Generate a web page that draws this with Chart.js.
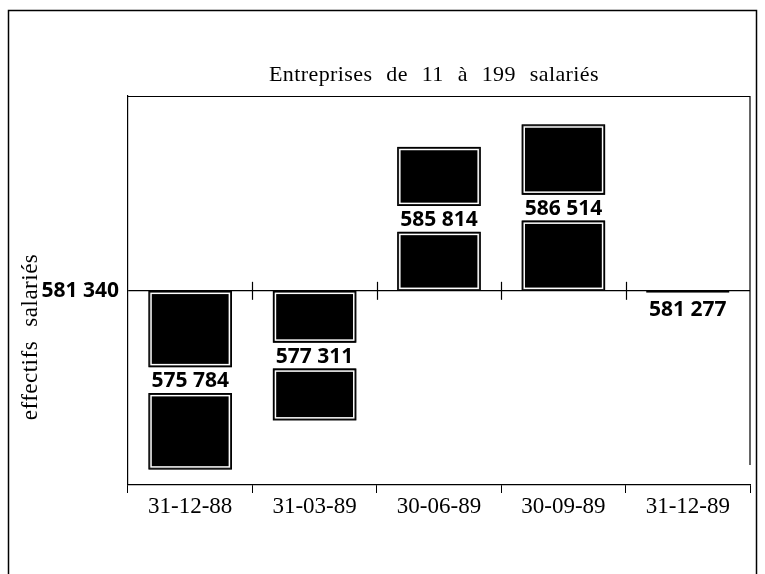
<!DOCTYPE html>
<html>
<head>
<meta charset="utf-8">
<script src="https://cdn.jsdelivr.net/npm/chart.js@4"></script>
<style>
  html, body { margin: 0; padding: 0; background: #fff; }
  #wrap { width: 765px; height: 574px; }
</style>
</head>
<body>
<div id="wrap"><canvas id="effectifsChart" width="765" height="574"></canvas></div>
<script>
// Effectifs salariés, entreprises de 11 à 199 salariés
const categories = ['31-12-88', '31-03-89', '30-06-89', '30-09-89', '31-12-89'];
const effectifs = [575784, 577311, 585814, 586514, 581277];
const reference = 581340;          // ligne de base
const yTickValues = [581340];
const yMin = 575300;
const yMax = 587400;

const SERIF = '"Liberation Serif", "DejaVu Serif", serif';
const BOLD = '"Open Sans", "Liberation Sans", sans-serif';

function fmt(v) {
  return String(v).replace(/\B(?=(\d{3})+(?!\d))/g, ' ');
}

// cadre, titre, boîte du graphique, petits traits sur la ligne de base, étiquettes
const decorPlugin = {
  id: 'decor',
  beforeDraw(chart) {
    const ctx = chart.ctx;
    ctx.save();
    ctx.fillStyle = '#fff';
    ctx.fillRect(0, 0, chart.width, chart.height);
    ctx.strokeStyle = '#000';
    ctx.lineWidth = 1.5;
    ctx.strokeRect(8.5, 10.5, 748, 600);

    // title
    ctx.fillStyle = '#000';
    ctx.font = '22px ' + SERIF;
    ctx.letterSpacing = '0.4px';
    ctx.wordSpacing = '8px';
    ctx.textAlign = 'center';
    ctx.textBaseline = 'middle';
    ctx.fillText('Entreprises de 11 à 199 salariés', 434, 75);
    ctx.restore();
  },
  afterDatasetsDraw(chart) {
    const ctx = chart.ctx;
    const area = chart.chartArea;
    const xs = chart.scales.x;
    const ys = chart.scales.y;
    const baseY = ys.getPixelForValue(reference);
    ctx.save();

    // top + right of the box
    ctx.strokeStyle = '#000';
    ctx.lineWidth = 1.2;
    ctx.beginPath();
    ctx.moveTo(area.left, area.top + 0.5);
    ctx.lineTo(area.right, area.top + 0.5);
    ctx.lineTo(area.right, area.bottom - 20);
    ctx.stroke();

    // ticks on the base line
    const step = xs.getPixelForValue(1) - xs.getPixelForValue(0);
    for (let i = 1; i < categories.length; i++) {
      const x = Math.round(xs.getPixelForValue(i) - step / 2) + 0.5;
      ctx.beginPath();
      ctx.moveTo(x, baseY - 9);
      ctx.lineTo(x, baseY + 9);
      ctx.stroke();
    }

    // bars: split in two blocks with the value in between
    const meta = chart.getDatasetMeta(0);
    ctx.font = 'bold 21px ' + BOLD;
    ctx.textAlign = 'center';
    ctx.textBaseline = 'middle';
    meta.data.forEach((bar, i) => {
      const top = Math.min(bar.y, bar.base);
      const bottom = Math.max(bar.y, bar.base);
      const left = bar.x - bar.width / 2;
      const w = bar.width;
      const label = fmt(effectifs[i]);
      if (bottom - top > 40) {
        const mid = (top + bottom) / 2;
        const g = 13;
        ctx.fillStyle = '#fff';
        ctx.fillRect(left - 2, mid - g, w + 4, 2 * g);
        // inner white margin of each block
        ctx.strokeStyle = '#fff';
        ctx.lineWidth = 1.5;
        ctx.strokeRect(left + 2.5, top + 2.5, w - 5, mid - g - top - 5);
        ctx.strokeRect(left + 2.5, mid + g + 2.5, w - 5, bottom - mid - g - 5);
        ctx.strokeStyle = '#000';
        ctx.lineWidth = 1.2;
        ctx.strokeRect(left + 0.5, top + 0.5, w - 1, mid - g - top - 1);
        ctx.strokeRect(left + 0.5, mid + g + 0.5, w - 1, bottom - mid - g - 1);
        ctx.fillStyle = '#000';
        ctx.fillText(label, bar.x, mid + 1);
      } else {
        ctx.fillStyle = '#000';
        ctx.fillText(label, bar.x, bottom + 17);
      }
    });

    // y axis title
    ctx.translate(31, 337);
    ctx.rotate(-Math.PI / 2);
    ctx.font = '23px ' + SERIF;
    ctx.letterSpacing = '0.5px';
    ctx.wordSpacing = '8px';
    ctx.fillStyle = '#000';
    ctx.fillText('effectifs salariés', 0, 0);
    ctx.restore();
  }
};

new Chart(document.getElementById('effectifsChart'), {
  type: 'bar',
  data: {
    labels: categories,
    datasets: [{
      label: 'effectifs salariés',
      data: effectifs.map(v => [reference, v]),
      backgroundColor: '#000',
      borderColor: '#000',
      borderWidth: 1,
      borderSkipped: false,
      barPercentage: 0.67,
      categoryPercentage: 1
    }]
  },
  options: {
    responsive: false,
    animation: false,
    layout: {
      padding: { left: 0, top: 96, right: 15, bottom: 0 }
    },
    plugins: {
      legend: { display: false },
      tooltip: { enabled: false }
    },
    scales: {
      x: {
        grid: {
          offset: true,
          drawOnChartArea: false,
          color: '#000',
          tickLength: 8
        },
        border: { color: '#000', width: 1.2 },
        ticks: {
          color: '#000',
          font: { family: SERIF, size: 23 },
          padding: 0,
          maxRotation: 0
        },
        afterFit(scale) { scale.height = 89; }
      },
      y: {
        min: yMin,
        max: yMax,
        afterBuildTicks(scale) {
          scale.ticks = yTickValues.map(v => ({ value: v }));
        },
        grid: {
          color: '#000',
          lineWidth: 1.2,
          drawTicks: false
        },
        border: { color: '#000', width: 1.2 },
        ticks: {
          color: '#000',
          font: { family: BOLD, size: 21, weight: 'bold' },
          padding: 9,
          callback: v => fmt(v)
        },
        afterFit(scale) { scale.width = 128; }
      }
    }
  },
  plugins: [decorPlugin]
});
</script>
</body>
</html>
